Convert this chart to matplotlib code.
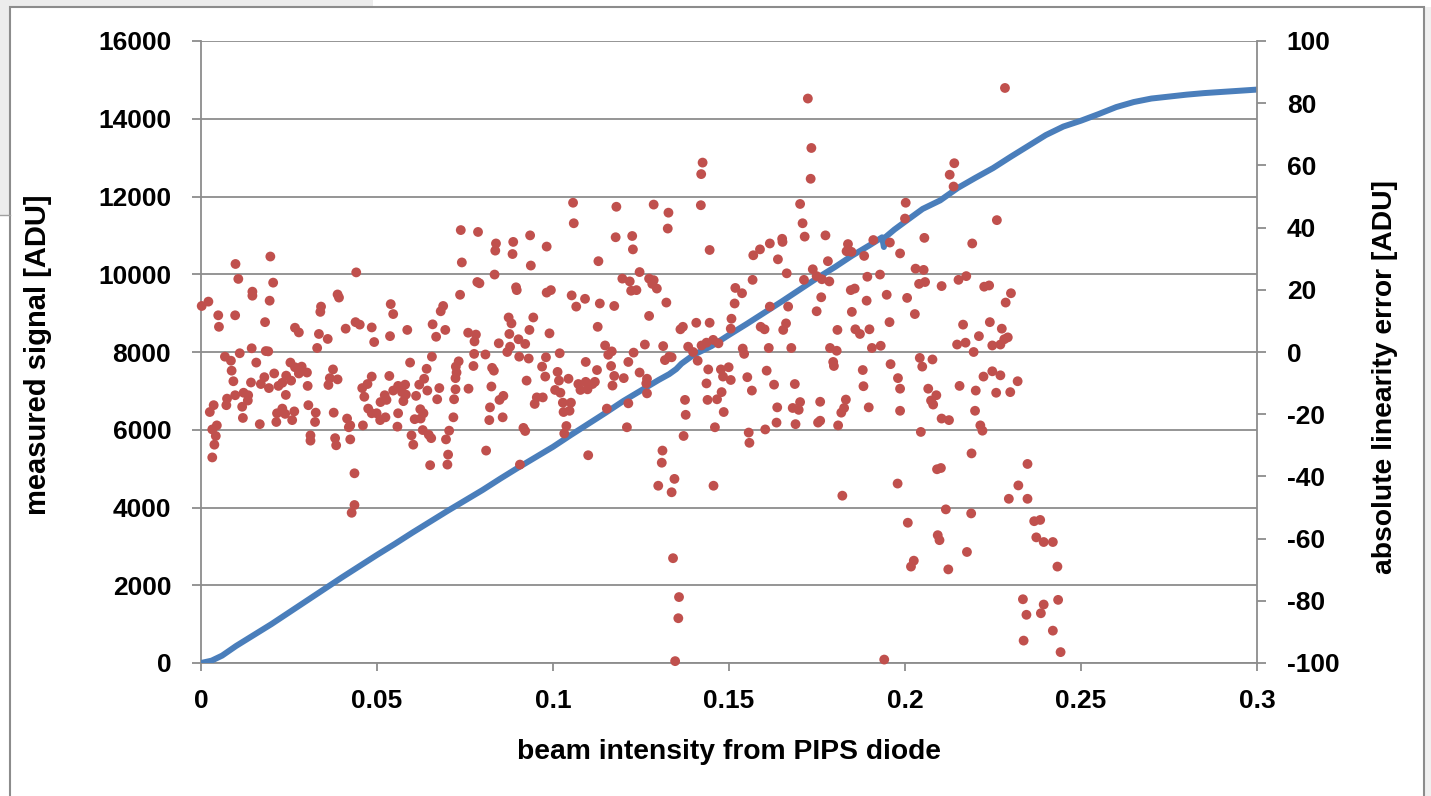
import matplotlib
matplotlib.use("Agg")
import matplotlib.pyplot as plt
from matplotlib.patches import Rectangle
from matplotlib.lines import Line2D

plt.rcParams['font.family'] = ['Liberation Sans', 'DejaVu Sans']
plt.rcParams['font.weight'] = 'bold'
plt.rcParams['axes.unicode_minus'] = False

# measured signal (blue line), left axis
sig_x = [0, 0.003, 0.006, 0.01, 0.015, 0.02, 0.025, 0.03, 0.035, 0.04,
         0.045, 0.05, 0.055, 0.06, 0.065, 0.07, 0.075, 0.08, 0.085, 0.09,
         0.095, 0.1, 0.105, 0.11, 0.115, 0.12, 0.125, 0.13, 0.133, 0.135,
         0.1365, 0.14, 0.145, 0.15, 0.155, 0.16, 0.165, 0.17, 0.175, 0.18,
         0.185, 0.19, 0.1935, 0.194, 0.1945, 0.197, 0.2, 0.205, 0.21, 0.215,
         0.22, 0.225, 0.23, 0.235, 0.24, 0.245, 0.25, 0.255, 0.26, 0.265,
         0.27, 0.275, 0.28, 0.285, 0.29, 0.295, 0.3]
sig_y = [0, 60, 190, 440, 720, 1000, 1300, 1600, 1900, 2200,
         2490, 2780, 3060, 3350, 3630, 3910, 4180, 4450, 4740, 5020,
         5290, 5560, 5860, 6150, 6440, 6740, 7010, 7280, 7430, 7560,
         7700, 7930, 8150, 8440, 8720, 9010, 9300, 9600, 9900, 10180,
         10480, 10750, 10950, 10700, 10960, 11150, 11350, 11680, 11900, 12220,
         12480, 12730, 13020, 13300, 13580, 13800, 13950, 14120, 14300, 14430,
         14520, 14570, 14620, 14660, 14690, 14720, 14750]

# absolute linearity error (red dots), right axis -- split by x range
err_x_a = [0.0002, 0.0021, 0.0049, 0.0051, 0.0098, 0.0106, 0.0097, 0.0146, 0.0146, 0.0197,
           0.0205, 0.0195, 0.0182, 0.0267, 0.0278, 0.0335, 0.0360, 0.0330, 0.0341, 0.0339,
           0.0388, 0.0392, 0.0441, 0.0411, 0.0439, 0.0451, 0.0485, 0.0492, 0.0068, 0.0085,
           0.0110, 0.0144, 0.0184, 0.0191, 0.0157, 0.0087, 0.0092, 0.0142, 0.0170, 0.0180,
           0.0193, 0.0208, 0.0220, 0.0231, 0.0242, 0.0256, 0.0241, 0.0254, 0.0267, 0.0286,
           0.0278, 0.0301, 0.0303, 0.0375, 0.0366, 0.0388, 0.0362, 0.0485, 0.0473, 0.0458,
           0.0464, 0.0025, 0.0036, 0.0072, 0.0074, 0.0097, 0.0121, 0.0134, 0.0133, 0.0117,
           0.0119, 0.0167, 0.0216, 0.0231, 0.0239, 0.0265, 0.0259, 0.0214, 0.0305, 0.0326,
           0.0324, 0.0377, 0.0415, 0.0424, 0.0420, 0.0460, 0.0475, 0.0485, 0.0032, 0.0045,
           0.0042, 0.0038, 0.0032, 0.0311, 0.0311, 0.0381, 0.0384, 0.0424, 0.0436, 0.0436,
           0.0428]
err_y_a = [14.8, 16.2, 11.8, 8.1, 28.3, 23.5, 11.8, 19.4, 18.1, 30.7,
           22.3, 16.5, 9.6, 7.8, 6.3, 5.8, 4.2, 1.3, 14.6, 12.9,
           18.5, 17.5, 25.6, 7.5, 9.6, 8.8, 7.9, 3.2, -1.5, -2.8,
           -0.4, 1.2, 0.3, 0.2, -3.4, -6.0, -9.4, -9.8, -10.3, -8.1,
           -11.6, -6.9, -10.9, -9.9, -7.6, -9.2, -13.8, -3.4, -4.9, -4.7,
           -6.9, -6.6, -10.9, -5.6, -8.4, -8.8, -10.6, -7.9, -10.3, -11.6,
           -14.4, -19.3, -17.1, -17.1, -15.0, -13.9, -13.1, -13.9, -15.6, -17.6,
           -21.2, -23.2, -19.7, -18.2, -19.9, -19.1, -21.9, -22.5, -17.1, -19.5,
           -22.5, -19.5, -21.4, -23.6, -24.2, -23.6, -18.2, -19.7, -24.9, -23.6,
           -27.0, -29.8, -33.9, -26.8, -28.5, -27.7, -30.0, -28.1, -39.0, -49.2,
           -51.7]

err_x_b = [0.0738, 0.0787, 0.0838, 0.0836, 0.0887, 0.0885, 0.0935, 0.0982, 0.0741, 0.0937,
           0.0834, 0.0785, 0.0791, 0.0736, 0.0895, 0.0897, 0.0982, 0.0539, 0.0546, 0.0688,
           0.0681, 0.0658, 0.0694, 0.0668, 0.0586, 0.0537, 0.0759, 0.0781, 0.0777, 0.0874,
           0.0882, 0.0944, 0.0933, 0.0876, 0.0902, 0.0921, 0.0846, 0.0878, 0.0870, 0.0990,
           0.0656, 0.0776, 0.0808, 0.0904, 0.0931, 0.0980, 0.0594, 0.0641, 0.0732, 0.0724,
           0.0726, 0.0723, 0.0774, 0.0827, 0.0832, 0.0969, 0.0535, 0.0634, 0.0620, 0.0580,
           0.0560, 0.0546, 0.0571, 0.0582, 0.0522, 0.0527, 0.0510, 0.0575, 0.0611, 0.0643,
           0.0677, 0.0671, 0.0723, 0.0719, 0.0760, 0.0825, 0.0925, 0.0978, 0.0859, 0.0848,
           0.0954, 0.0971, 0.0948, 0.0499, 0.0509, 0.0524, 0.0560, 0.0623, 0.0632, 0.0607,
           0.0624, 0.0558, 0.0717, 0.0821, 0.0819, 0.0857, 0.0916, 0.0921, 0.0598, 0.0603,
           0.0630, 0.0647, 0.0654, 0.0705, 0.0696, 0.0810, 0.0702, 0.0651, 0.0700, 0.0906]
err_y_b = [39.2, 38.6, 34.9, 32.6, 35.4, 31.5, 37.5, 33.9, 28.8, 27.8,
           24.9, 22.5, 22.1, 18.4, 20.8, 19.9, 19.1, 15.4, 12.2, 14.8,
           13.1, 8.9, 7.1, 4.9, 7.1, 5.1, 6.2, 5.6, 3.4, 11.1,
           9.2, 11.1, 7.1, 5.8, 4.1, 2.6, 2.8, 1.7, 0.0, 6.0,
           -1.5, -0.6, -0.8, -1.5, -2.1, -1.7, -3.4, -5.4, -3.0, -4.7,
           -6.6, -8.4, -4.5, -5.1, -6.0, -4.7, -7.7, -8.6, -10.5, -10.5,
           -10.9, -12.4, -12.9, -13.7, -13.9, -15.4, -16.1, -15.8, -14.1, -12.4,
           -11.6, -15.2, -12.0, -15.2, -11.8, -11.1, -9.2, -7.9, -14.1, -15.4,
           -14.6, -14.6, -16.7, -19.7, -21.9, -21.0, -19.7, -18.4, -19.7, -21.6,
           -21.4, -24.0, -21.0, -17.8, -21.9, -21.0, -24.4, -25.4, -26.8, -29.8,
           -25.1, -26.6, -27.7, -25.3, -28.1, -31.7, -33.0, -36.4, -36.2, -36.2]

err_x_c = [0.1057, 0.1059, 0.1180, 0.1178, 0.1225, 0.1227, 0.1286, 0.1328, 0.1326, 0.1420,
           0.1445, 0.1129, 0.1246, 0.1197, 0.1218, 0.1273, 0.1286, 0.1282, 0.1295, 0.1222,
           0.1237, 0.1322, 0.1273, 0.0994, 0.1053, 0.1066, 0.1091, 0.1133, 0.1174, 0.1127,
           0.1362, 0.1369, 0.1407, 0.1445, 0.1148, 0.1261, 0.1313, 0.1157, 0.1167, 0.1229,
           0.1019, 0.1093, 0.1165, 0.1125, 0.1214, 0.1318, 0.1330, 0.1337, 0.1384, 0.1398,
           0.1411, 0.1422, 0.1436, 0.1455, 0.1470, 0.1013, 0.1017, 0.1044, 0.1072, 0.1093,
           0.1078, 0.1098, 0.1112, 0.1119, 0.1174, 0.1201, 0.1169, 0.1246, 0.1267, 0.1265,
           0.1441, 0.1477, 0.1483, 0.1006, 0.1021, 0.1436, 0.1479, 0.1466, 0.1439, 0.1267,
           0.1214, 0.1028, 0.1051, 0.1030, 0.1047, 0.1153, 0.1375, 0.1377, 0.1485, 0.1038,
           0.1032, 0.1210, 0.1460, 0.1371, 0.1100, 0.1311, 0.1309, 0.1425, 0.1421,
           0.1345, 0.1299, 0.1337, 0.1456, 0.1341, 0.1358, 0.1356, 0.1347]
err_y_c = [48.0, 41.4, 46.7, 36.9, 37.3, 33.0, 47.4, 44.8, 39.7, 47.2,
           32.8, 29.2, 25.7, 23.6, 22.7, 23.6, 23.1, 21.9, 20.4, 19.7,
           19.9, 15.9, 11.6, 19.9, 18.2, 14.6, 17.1, 15.6, 14.8, 8.1,
           7.3, 8.1, 9.4, 9.4, 2.1, 2.4, 1.9, -0.9, 0.2, -0.2,
           -0.4, -3.2, -4.5, -5.8, -3.2, -2.6, -1.5, -1.7, 1.7, 0.0,
           -2.8, 2.1, 3.0, 3.9, 2.8, -6.4, -9.2, -8.6, -10.3, -9.6,
           -12.2, -12.0, -10.3, -9.6, -7.7, -8.4, -10.8, -6.6, -8.6, -10.1,
           -5.6, -5.6, -7.9, -12.2, -13.1, -10.1, -12.9, -15.2, -15.4, -13.3,
           -16.5, -16.3, -16.3, -19.3, -18.9, -18.2, -15.4, -20.2, -19.3, -23.8,
           -26.2, -24.2, -24.2, -27.0, -33.2, -31.7, -35.6, 60.9, 57.2,
           -40.8, -43.0, -45.1, -43.0, -66.3, -78.8, -85.6, -99.4]

err_x_d = [0.1724, 0.1734, 0.1732, 0.1702, 0.1709, 0.1715, 0.1774, 0.1651, 0.1652, 0.1616,
           0.1588, 0.1569, 0.1639, 0.1664, 0.1567, 0.1518, 0.1537, 0.1516, 0.1507, 0.1505,
           0.1590, 0.1601, 0.1654, 0.1662, 0.1616, 0.1668, 0.1713, 0.1738, 0.1749, 0.1764,
           0.1785, 0.1781, 0.1762, 0.1749, 0.1838, 0.1834, 0.1848, 0.1884, 0.1910, 0.1957,
           0.1986, 0.1893, 0.1929, 0.1846, 0.1857, 0.1891, 0.1948, 0.1849, 0.1808, 0.1859,
           0.1872, 0.1899, 0.1956, 0.1539, 0.1543, 0.1613, 0.1677, 0.1787, 0.1806, 0.1796,
           0.1798, 0.1906, 0.1931, 0.1959, 0.1499, 0.1505, 0.1552, 0.1607, 0.1880, 0.1980,
           0.1565, 0.1628, 0.1687, 0.1882, 0.1986, 0.1637, 0.1681, 0.1698, 0.1702, 0.1759,
           0.1832, 0.1827, 0.1819, 0.1897, 0.1986, 0.1556, 0.1558, 0.1603, 0.1635, 0.1689,
           0.1753, 0.1759, 0.1810, 0.1822, 0.1941]
err_y_d = [81.5, 65.6, 55.7, 47.6, 41.4, 37.1, 37.5, 36.4, 35.4, 34.9,
           33.0, 31.1, 29.8, 25.3, 23.2, 20.6, 18.9, 15.6, 10.7, 7.5,
           8.1, 7.3, 7.1, 9.2, 14.6, 14.6, 23.2, 26.6, 24.4, 23.4,
           22.7, 29.2, 17.6, 13.1, 34.7, 32.4, 32.2, 30.9, 36.0, 35.2,
           31.7, 24.2, 24.9, 19.9, 20.4, 16.5, 18.4, 12.9, 7.1, 7.3,
           5.8, 7.3, 9.6, 1.1, -0.6, 1.3, 1.3, 1.3, 0.4, -3.2,
           -4.5, 1.3, 2.0, -3.9, -4.9, -9.0, -8.1, -6.0, -5.8, -8.4,
           -12.4, -10.5, -10.3, -11.0, -11.8, -17.8, -18.0, -18.6, -16.1, -16.0,
           -15.3, -18.0, -19.5, -17.8, -18.9, -25.9, -29.2, -24.9, -22.7, -23.2,
           -22.7, -22.1, -23.6, -46.2, -98.9]

err_x_e = [0.2284, 0.2140, 0.2127, 0.2138, 0.2002, 0.2000, 0.2261, 0.2055, 0.2191, 0.2030,
           0.2053, 0.2040, 0.2057, 0.2104, 0.2152, 0.2174, 0.2225, 0.2239, 0.2301, 0.2286,
           0.2006, 0.2028, 0.2165, 0.2241, 0.2275, 0.2210, 0.2148, 0.2172, 0.2195, 0.2248,
           0.2271, 0.2282, 0.2292, 0.2042, 0.2049, 0.2078, 0.2223, 0.2248, 0.2271, 0.2320,
           0.2066, 0.2089, 0.2074, 0.2080, 0.2155, 0.2201, 0.2259, 0.2299, 0.2199, 0.2104,
           0.2125, 0.2214, 0.2220, 0.2045, 0.2189, 0.2091, 0.2102, 0.2348, 0.2322, 0.2295,
           0.2348, 0.2116, 0.2188, 0.2008, 0.2367, 0.2384, 0.2373, 0.2394, 0.2093, 0.2098,
           0.2176, 0.2025, 0.2017, 0.2123, 0.2335, 0.2394, 0.2345, 0.2386, 0.2337, 0.1979,
           0.2420, 0.2433, 0.2435, 0.2420, 0.2442]
err_y_e = [84.9, 60.7, 57.0, 53.2, 48.0, 42.9, 42.4, 36.7, 34.9, 26.8,
           26.4, 21.9, 22.5, 21.2, 23.2, 24.4, 21.0, 21.4, 18.9, 15.9,
           17.4, 12.2, 8.8, 9.6, 7.5, 5.1, 2.4, 3.0, 0.0, 2.1,
           2.4, 4.1, 4.7, -1.9, -4.7, -2.4, -7.9, -6.2, -7.5, -9.4,
           -11.8, -13.9, -15.6, -16.9, -10.9, -12.4, -13.1, -12.9, -18.9, -21.4,
           -21.9, -23.6, -25.3, -25.7, -32.6, -37.7, -37.3, -36.0, -42.9, -47.2,
           -47.2, -50.6, -51.9, -54.9, -54.4, -54.0, -59.6, -61.1, -58.9, -60.5,
           -64.3, -67.1, -69.0, -69.9, -79.5, -81.2, -84.5, -84.0, -92.8, -42.3,
           -61.1, -69.0, -79.7, -89.6, -96.5]

err_x = err_x_a + err_x_b + err_x_c + err_x_d + err_x_e
err_y = err_y_a + err_y_b + err_y_c + err_y_d + err_y_e
assert len(err_x) == len(err_y)

x_ticks = [0, 0.05, 0.1, 0.15, 0.2, 0.25, 0.3]
x_tick_labels = ['0', '0.05', '0.1', '0.15', '0.2', '0.25', '0.3']
left_ticks = list(range(0, 16001, 2000))
right_ticks = list(range(-100, 101, 20))

blue = '#4a7ebb'
red = '#c0504d'
gray = '#8c8c8c'

W, H = 1431, 796
fig = plt.figure(figsize=(W / 100, H / 100), dpi=100)

# excel sheet remnants around the chart area
fig.add_artist(Rectangle((0, 1 - 215 / H), 10 / W, 215 / H, transform=fig.transFigure,
                         facecolor='#ececec', edgecolor='none'))
fig.add_artist(Rectangle((0, 1 - 7 / H), 373 / W, 7 / H, transform=fig.transFigure,
                         facecolor='#ececec', edgecolor='none'))
fig.add_artist(Rectangle((1425 / W, 0), 6 / W, 1 - 7 / H, transform=fig.transFigure,
                         facecolor='#f0f0f0', edgecolor='none'))
fig.add_artist(Line2D([0, 10 / W], [1 - 215 / H, 1 - 215 / H], transform=fig.transFigure,
                      color='#a0a0a0', lw=1))
fig.add_artist(Rectangle((10 / W, -0.05), 1414 / W, 1.05 - 7 / H, transform=fig.transFigure,
                         facecolor='none', edgecolor=gray, lw=1.5))

ax = fig.add_axes([201 / W, 1 - 663 / H, 1056 / W, 622 / H])
ax.plot(sig_x, sig_y, color=blue, lw=4.3, solid_joinstyle='round', zorder=3)
ax.set_xlim(0, 0.3)
ax.set_ylim(0, 16000)
ax.set_xticks(x_ticks)
ax.set_xticklabels(x_tick_labels)
ax.set_yticks(left_ticks)
ax.grid(axis='y', color=gray, lw=1.3)
ax.set_axisbelow(True)
for side in ['top', 'right']:
    ax.spines[side].set_visible(False)
for side in ['left', 'bottom']:
    ax.spines[side].set_color(gray)
    ax.spines[side].set_linewidth(1.3)
ax.tick_params(axis='x', direction='out', length=6, width=1.3, color=gray,
               labelsize=19, pad=13)
ax.tick_params(axis='y', direction='out', length=6.5, width=1.3, color=gray,
               labelsize=19, pad=15)

ax2 = ax.twinx()
ax2.scatter(err_x, err_y, s=50, color=red, edgecolors='none', zorder=4, clip_on=False)
ax2.set_ylim(-100, 100)
ax2.set_yticks(right_ticks)
for side in ['top', 'left', 'bottom']:
    ax2.spines[side].set_visible(False)
ax2.spines['right'].set_color(gray)
ax2.spines['right'].set_linewidth(1.3)
ax2.tick_params(axis='y', direction='out', length=6.5, width=1.3, color=gray,
                labelsize=19, pad=15)

fig.text(38 / W, 1 - 355 / H, 'measured signal [ADU]', rotation=90,
         ha='center', va='center', fontsize=21, fontweight='bold')
fig.text(1385 / W, 1 - 377 / H, 'absolute linearity error [ADU]', rotation=90,
         ha='center', va='center', fontsize=20.3, fontweight='bold')
fig.text(729 / W, 1 - 752 / H, 'beam intensity from PIPS diode',
         ha='center', va='center', fontsize=20.3, fontweight='bold')

fig.savefig('out.png', dpi=100)
